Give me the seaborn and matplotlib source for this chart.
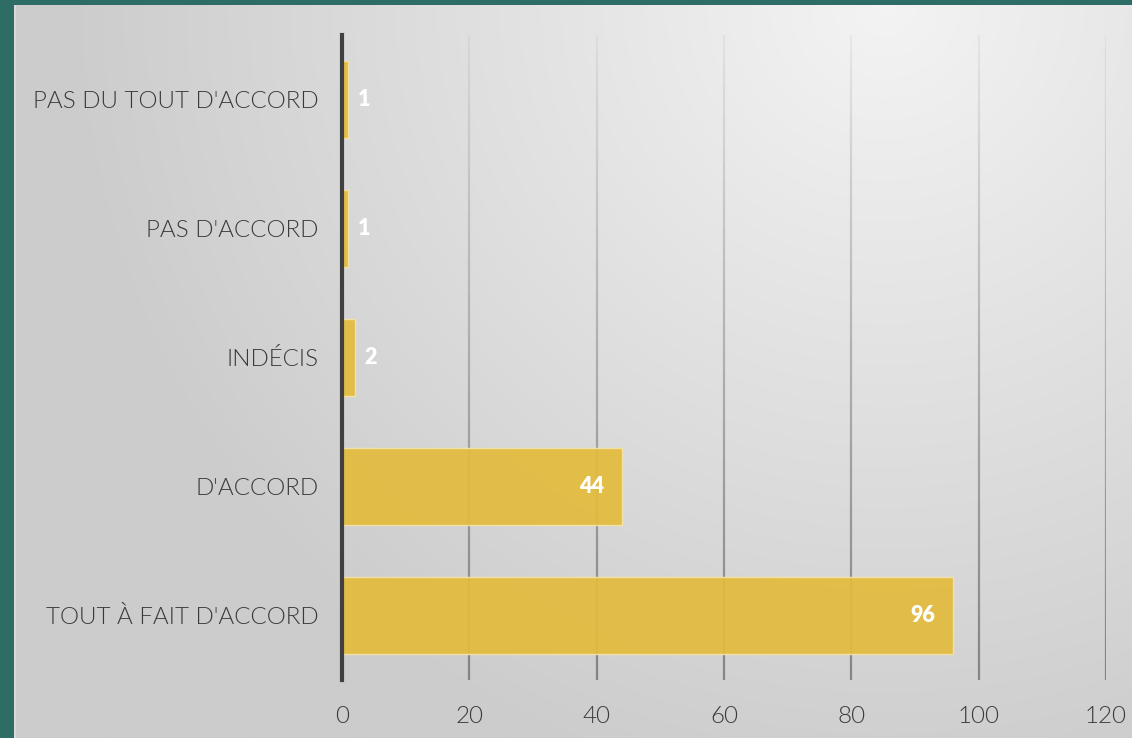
import numpy as np
import pandas as pd
import matplotlib
matplotlib.use("Agg")
import matplotlib.pyplot as plt
from matplotlib.collections import LineCollection
import seaborn as sns

# Survey answers and counts
categories = ["PAS DU TOUT D'ACCORD", "PAS D'ACCORD", "INDÉCIS", "D'ACCORD", "TOUT À FAIT D'ACCORD"]
counts = [1, 1, 2, 44, 96]
x_ticks = [0, 20, 40, 60, 80, 100, 120]

df = pd.DataFrame({"reponse": categories, "nombre": counts})

sns.set_theme(style="white")
plt.rcParams["font.family"] = ["Lato", "DejaVu Sans"]

W, H, DPI = 1132, 738, 100
fig = plt.figure(figsize=(W / DPI, H / DPI), dpi=DPI)
fig.patch.set_facecolor("#2e6c66")

# Slide panel with a soft radial gradient
bg = fig.add_axes([14 / W, 0, 1 - 14 / W, 1 - 5 / H])
bg.set_axis_off()
gy, gx = np.mgrid[0:1:400j, 0:1:600j]
dist = np.sqrt(((gx - 0.78) * 1.5) ** 2 + ((gy - 0.0) * 1.0) ** 2)
shade = np.clip(0.955 - 0.14 * dist, 0.80, 0.96)
bg.imshow(np.dstack([shade] * 3), aspect="auto", extent=(0, 1, 1, 0))
bg.set_xlim(0, 1)
bg.set_ylim(1, 0)
bg.axvline(0.001, color="#dcdcdc", lw=1.2)

ax = fig.add_axes([342 / W, 1 - 680 / H, (1106 - 342) / W, (680 - 35) / H])
ax.patch.set_alpha(0)

sns.barplot(data=df, y="reponse", x="nombre", orient="h", color="#e3bb3d",
            width=0.6, edgecolor="#f4e3a6", linewidth=1.0, alpha=0.93,
            saturation=1, ax=ax, zorder=3)

ax.set_xlim(x_ticks[0], x_ticks[-1])
ax.set_ylim(len(categories) - 0.5, -0.5)
ax.set_xticks(x_ticks)
ax.set_xticklabels([str(t) for t in x_ticks])
ax.set_xlabel("")
ax.set_ylabel("")

# Vertical gridlines fading toward the top
segs, cols = [], []
n = 40
edges = np.linspace(-0.5, len(categories) - 0.5, n + 1)
for t in x_ticks[1:]:
    for i in range(n):
        segs.append([(t, edges[i]), (t, edges[i + 1])])
        frac = (edges[i] + 0.5) / len(categories)
        cols.append((0.45, 0.45, 0.45, 0.08 + 0.75 * frac))
ax.add_collection(LineCollection(segs, colors=cols, linewidths=1.6, zorder=1))

for side in ["top", "right", "bottom"]:
    ax.spines[side].set_visible(False)
ax.spines["left"].set_color("#404040")
ax.spines["left"].set_linewidth(3)
ax.spines["left"].set_zorder(4)
ax.tick_params(axis="both", length=0, colors="#3a3a3a", labelsize=17.4)
ax.tick_params(axis="x", pad=19)
ax.tick_params(axis="y", pad=17)
for lbl in ax.get_xticklabels() + ax.get_yticklabels():
    lbl.set_fontweight(300)

# Value labels inside the bar end (just past it for short bars)
for i, v in enumerate(counts):
    if v < 10:
        ax.annotate(str(v), (v, i), xytext=(7, 0), textcoords="offset points",
                    ha="left", va="center", color="white", fontsize=15.5,
                    fontweight="heavy", zorder=5)
    else:
        ax.annotate(str(v), (v, i), xytext=(-13, 0), textcoords="offset points",
                    ha="right", va="center", color="white", fontsize=15.5,
                    fontweight="heavy", zorder=5)

fig.savefig("out.png", dpi=DPI, facecolor=fig.get_facecolor())
